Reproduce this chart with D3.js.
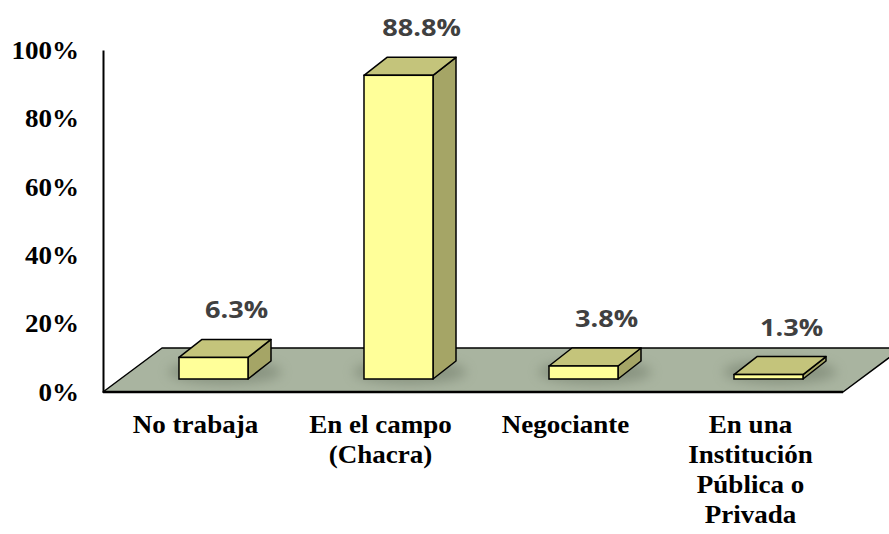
<!DOCTYPE html>
<html>
<head>
<meta charset="utf-8">
<script src="https://cdn.jsdelivr.net/npm/d3@7"></script>
<style>
  body { margin: 0; background: #fff; }
  svg { display: block; }
  .serif { font-family: "Liberation Serif", Tinos, "Times New Roman", Times, serif; font-weight: bold; }
</style>
</head>
<body>
<div id="chart"></div>
<script>
// data
var categories = ['No trabaja', 'En el campo (Chacra)', 'Negociante', 'En una Institución Pública o Privada'];
var labelLines = [['No trabaja'], ['En el campo', '(Chacra)'], ['Negociante'], ['En una', 'Institución', 'Pública o', 'Privada']];
var values = [6.3, 88.8, 3.8, 1.3];
var yTicks = [0, 20, 40, 60, 80, 100];

var width = 889, height = 534;
var stretch = 1.04; // serif text is a touch wide in the picture

var x0 = 103, x1 = 843, yBase = 392;
var floorDx = 59, floorDy = -44;      // depth of the floor
var frontDx = 18, frontDy = -13;      // where bar fronts sit in depth
var barDx = 23, barDy = -18;          // bar depth

var svg = d3.select('#chart').append('svg')
    .attr('width', width)
    .attr('height', height);

var defs = svg.append('defs');
defs.append('filter').attr('id', 'blur')
    .attr('x', '-50%').attr('y', '-50%').attr('width', '200%').attr('height', '200%')
    .append('feGaussianBlur').attr('stdDeviation', 6);

var x = d3.scaleBand()
    .domain(categories)
    .range([x0, x1])
    .paddingInner(0.627)
    .paddingOuter(0.3135);

var y = d3.scaleLinear()
    .domain([0, 100])
    .range([yBase, yBase - 342]);

// floor
svg.append('polygon')
    .attr('points', [[x0, yBase], [x0 + floorDx, yBase + floorDy], [x1 + floorDx, yBase + floorDy], [x1, yBase]].join(' '))
    .attr('fill', '#a9b4a0')
    .attr('stroke', '#000')
    .attr('stroke-width', 1.5)
    .attr('stroke-linejoin', 'round');

svg.append('line')
    .attr('x1', x0).attr('x2', x1)
    .attr('y1', yBase).attr('y2', yBase)
    .attr('stroke', '#000')
    .attr('stroke-width', 2.5);

var data = categories.map(function (c, i) {
  return { name: c, value: values[i], lines: labelLines[i] };
});

// soft shadows on the floor
svg.append('g').selectAll('ellipse')
    .data(data)
    .join('ellipse')
    .attr('cx', d => x(d.name) + x.bandwidth() / 2 + frontDx + barDx / 2)
    .attr('cy', yBase + frontDy + barDy / 2 + 2)
    .attr('rx', x.bandwidth() / 2 + 22)
    .attr('ry', 12)
    .attr('fill', '#6f7a68')
    .attr('opacity', 0.55)
    .attr('filter', 'url(#blur)');

// bars
var bars = svg.append('g').selectAll('g')
    .data(data)
    .join('g');

function fx(d) { return x(d.name) + frontDx; }
function barTop(d) { return y(d.value) + frontDy; }
var bot = yBase + frontDy;

bars.append('polygon')  // side
    .attr('points', d => {
      var r = fx(d) + x.bandwidth();
      return [[r, barTop(d)], [r + barDx, barTop(d) + barDy], [r + barDx, bot + barDy], [r, bot]].join(' ');
    })
    .attr('fill', '#a5a566')
    .attr('stroke', '#000')
    .attr('stroke-width', 1.5)
    .attr('stroke-linejoin', 'round');

bars.append('polygon')  // top
    .attr('points', d => {
      var l = fx(d), r = l + x.bandwidth(), t = barTop(d);
      return [[l, t], [l + barDx, t + barDy], [r + barDx, t + barDy], [r, t]].join(' ');
    })
    .attr('fill', '#c4c47b')
    .attr('stroke', '#000')
    .attr('stroke-width', 1.5)
    .attr('stroke-linejoin', 'round');

bars.append('rect')  // front
    .attr('x', fx)
    .attr('y', barTop)
    .attr('width', x.bandwidth())
    .attr('height', d => bot - barTop(d))
    .attr('fill', '#ffff99')
    .attr('stroke', '#000')
    .attr('stroke-width', 1.5);

// value labels
bars.append('text')
    .attr('transform', d => 'translate(' + (fx(d) + x.bandwidth() / 2 + barDx) + ',' + (barTop(d) + barDy - 21) + ') scale(1.18,1)')
    .attr('text-anchor', 'middle')
    .style('font-family', '"Open Sans", sans-serif')
    .style('font-weight', 'bold')
    .style('font-size', '23px')
    .attr('fill', '#404040')
    .text(d => d.value.toFixed(1) + '%');

// y axis
var yAxis = svg.append('g')
    .attr('transform', 'translate(' + x0 + ',0)')
    .call(d3.axisLeft(y).tickValues(yTicks).tickFormat(d => d + '%').tickSize(0).tickPadding(23));

yAxis.attr('font-family', null).attr('font-size', null);

yAxis.select('.domain')
    .attr('stroke', '#000')
    .attr('stroke-width', 2);

yAxis.selectAll('text')
    .attr('class', 'serif')
    .attr('transform', 'scale(' + stretch + ',1)')
    .style('font-size', '26px')
    .attr('fill', '#000');

// category labels
var cats = svg.append('g').selectAll('g')
    .data(data)
    .join('g')
    .attr('transform', d => 'translate(' + (x(d.name) + x.bandwidth() / 2) + ',433) scale(' + stretch + ',1)');

cats.selectAll('text')
    .data(d => d.lines)
    .join('text')
    .attr('class', 'serif')
    .attr('y', (d, i) => i * 30)
    .attr('text-anchor', 'middle')
    .style('font-size', '26px')
    .attr('fill', '#000')
    .text(d => d);
</script>
</body>
</html>
